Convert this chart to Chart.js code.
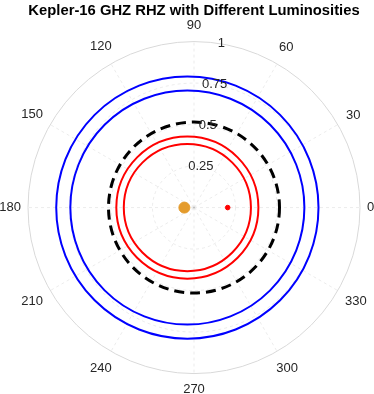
<!DOCTYPE html>
<html>
<head>
<meta charset="utf-8">
<script src="https://cdn.jsdelivr.net/npm/chart.js@4"></script>
<style>
  html, body { margin: 0; padding: 0; background: #fff; }
  #wrap { width: 374px; height: 394px; }
</style>
</head>
<body>
<div id="wrap"><canvas id="polarPlot"></canvas></div>
<script>
// polar plot values (x is the 0-180 axis, distance in AU)
const angleTicks = [0, 30, 60, 90, 120, 150, 180, 210, 240, 270, 300, 330];
const radialTicks = [0.25, 0.5, 0.75, 1];

// zones: GHZ outer/inner (blue), reference (black dashed), RHZ outer/inner (red)
const ringCenterX = [-0.04, -0.04, 0, -0.04, -0.04];
const ringRadius = [0.79, 0.705, 0.515, 0.428, 0.383];

// the two stars
const starA = [{ x: -0.058, y: 0 }];
const starB = [{ x: 0.203, y: 0 }];

const ringStyles = [
  { color: '#0000ff', width: 2, dash: [] },
  { color: '#0000ff', width: 2, dash: [] },
  { color: '#000000', width: 3, dash: [10, 6] },
  { color: '#ff0000', width: 2, dash: [] },
  { color: '#ff0000', width: 2, dash: [] },
];

const labelFont = '13px "Liberation Sans", Arial, sans-serif';
const labelColor = '#262626';

const polarGrid = {
  id: 'polarGrid',
  beforeDatasetsDraw(chart) {
    const { ctx, scales: { x, y } } = chart;
    const cx = x.getPixelForValue(0);
    const cy = y.getPixelForValue(0);
    const R = x.getPixelForValue(1) - cx;

    ctx.save();
    // inner circles and spokes
    ctx.strokeStyle = 'rgba(0,0,0,0.08)';
    ctx.lineWidth = 1;
    ctx.setLineDash([3, 3]);
    radialTicks.slice(0, -1).forEach(v => {
      ctx.beginPath();
      ctx.arc(cx, cy, x.getPixelForValue(v) - cx, 0, Math.PI * 2);
      ctx.stroke();
    });
    angleTicks.forEach(a => {
      const t = a * Math.PI / 180;
      ctx.beginPath();
      ctx.moveTo(cx, cy);
      ctx.lineTo(cx + R * Math.cos(t), cy - R * Math.sin(t));
      ctx.stroke();
    });
    // outer edge
    ctx.setLineDash([]);
    ctx.strokeStyle = '#d9d9d9';
    ctx.beginPath();
    ctx.arc(cx, cy, R, 0, Math.PI * 2);
    ctx.stroke();

    // angle labels
    ctx.font = labelFont;
    ctx.fillStyle = labelColor;
    ctx.textAlign = 'center';
    ctx.textBaseline = 'middle';
    angleTicks.forEach(a => {
      const t = a * Math.PI / 180;
      const txt = String(a);
      const w = ctx.measureText(txt).width;
      const off = R + 7 + Math.abs(Math.cos(t)) * w / 2 + Math.abs(Math.sin(t)) * 9;
      ctx.fillText(txt, cx + off * Math.cos(t), cy - off * Math.sin(t));
    });

    // zone rings
    ringRadius.forEach((r, i) => {
      const st = ringStyles[i];
      const px = x.getPixelForValue(ringCenterX[i]);
      ctx.strokeStyle = st.color;
      ctx.lineWidth = st.width;
      ctx.setLineDash(st.dash);
      ctx.beginPath();
      ctx.arc(px, cy, x.getPixelForValue(r) - cx, 0, Math.PI * 2);
      ctx.stroke();
    });

    // radial tick labels along 80 deg
    ctx.setLineDash([]);
    ctx.fillStyle = labelColor;
    const t80 = 80.5 * Math.PI / 180;
    radialTicks.forEach(v => {
      const d = x.getPixelForValue(v) - cx;
      ctx.fillText(String(v), cx + d * Math.cos(t80), cy - d * Math.sin(t80));
    });
    ctx.restore();
  }
};

new Chart(document.getElementById('polarPlot'), {
  type: 'scatter',
  data: {
    datasets: [
      { label: 'Kepler-16 A', data: starA, backgroundColor: '#e49b2c', borderColor: '#e49b2c', pointRadius: 5.5 },
      { label: 'Kepler-16 B', data: starB, backgroundColor: '#ff0000', borderColor: '#ff0000', pointRadius: 2.3 },
    ]
  },
  options: {
    responsive: true,
    maintainAspectRatio: false,
    animation: false,
    layout: { padding: { left: 28, right: 14, top: 0, bottom: 20.5 } },
    scales: {
      x: { type: 'linear', min: -1, max: 1, display: false },
      y: { type: 'linear', min: -1, max: 1, display: false }
    },
    plugins: {
      legend: { display: false },
      tooltip: { enabled: false },
      title: {
        display: true,
        text: 'Kepler-16 GHZ RHZ with Different Luminosities',
        color: '#000',
        font: { family: '"Liberation Sans", Arial, sans-serif', size: 14.8, weight: 'bold' },
        padding: { top: 2.5, bottom: 21.4 }
      }
    }
  },
  plugins: [polarGrid]
});
</script>
</body>
</html>
